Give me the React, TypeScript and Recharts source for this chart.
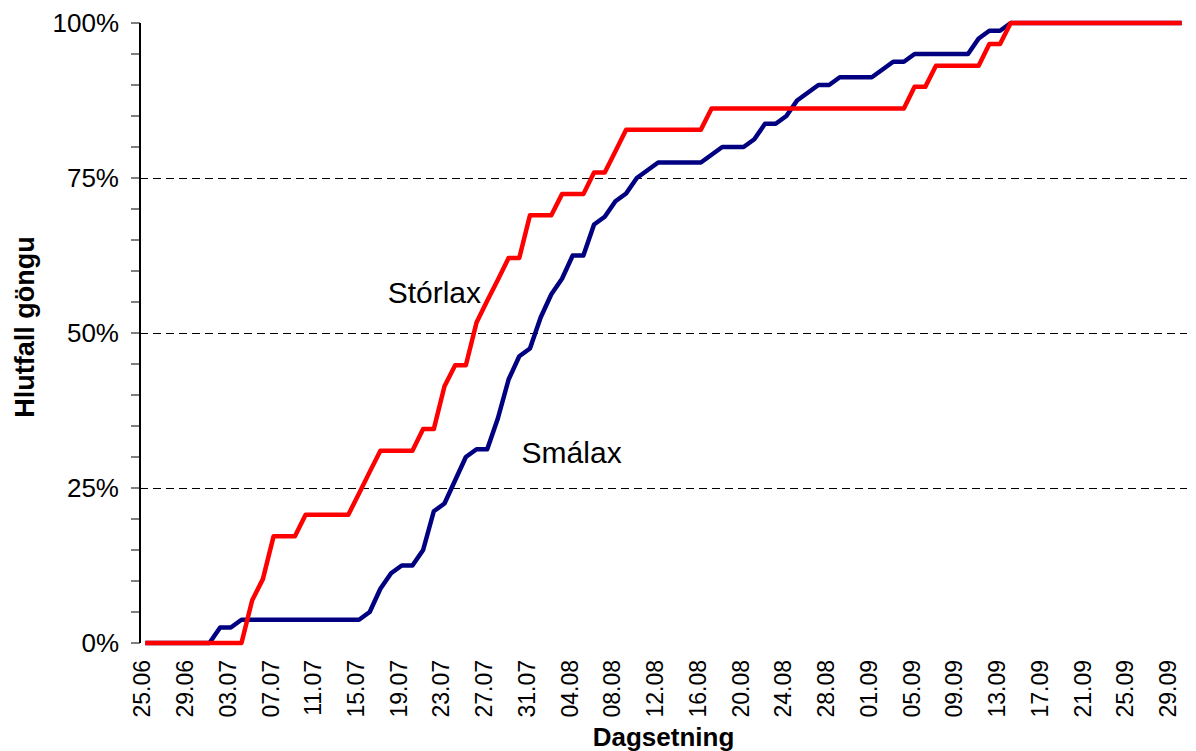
import React from 'react';
import { LineChart, Line, XAxis, YAxis, ReferenceLine, ReferenceDot, Label } from 'recharts';

const dates = [
  '25.06', '26.06', '27.06', '28.06', '29.06', '30.06',
  '01.07', '02.07', '03.07', '04.07', '05.07', '06.07', '07.07', '08.07', '09.07', '10.07',
  '11.07', '12.07', '13.07', '14.07', '15.07', '16.07', '17.07', '18.07', '19.07', '20.07',
  '21.07', '22.07', '23.07', '24.07', '25.07', '26.07', '27.07', '28.07', '29.07', '30.07', '31.07',
  '01.08', '02.08', '03.08', '04.08', '05.08', '06.08', '07.08', '08.08', '09.08', '10.08',
  '11.08', '12.08', '13.08', '14.08', '15.08', '16.08', '17.08', '18.08', '19.08', '20.08',
  '21.08', '22.08', '23.08', '24.08', '25.08', '26.08', '27.08', '28.08', '29.08', '30.08', '31.08',
  '01.09', '02.09', '03.09', '04.09', '05.09', '06.09', '07.09', '08.09', '09.09', '10.09',
  '11.09', '12.09', '13.09', '14.09', '15.09', '16.09', '17.09', '18.09', '19.09', '20.09',
  '21.09', '22.09', '23.09', '24.09', '25.09', '26.09', '27.09', '28.09', '29.09', '30.09',
];

const tickLabels = [
  '25.06', '29.06', '03.07', '07.07', '11.07', '15.07', '19.07', '23.07', '27.07', '31.07',
  '04.08', '08.08', '12.08', '16.08', '20.08', '24.08', '28.08', '01.09', '05.09', '09.09',
  '13.09', '17.09', '21.09', '25.09', '29.09',
];

// Smálax (navy), cumulative %
const smalax = [
  0, 0, 0, 0, 0, 0, 0, 2.5, 2.5, 3.75,
  3.75, 3.75, 3.75, 3.75, 3.75, 3.75, 3.75, 3.75, 3.75, 3.75,
  3.75, 5, 8.75, 11.25, 12.5, 12.5, 15, 21.25, 22.5, 26.25,
  30, 31.25, 31.25, 36.25, 42.5, 46.25, 47.5, 52.5, 56.25, 58.75,
  62.5, 62.5, 67.5, 68.75, 71.25, 72.5, 75, 76.25, 77.5, 77.5,
  77.5, 77.5, 77.5, 78.75, 80, 80, 80, 81.25, 83.75, 83.75,
  85, 87.5, 88.75, 90, 90, 91.25, 91.25, 91.25, 91.25, 92.5,
  93.75, 93.75, 95, 95, 95, 95, 95, 95, 97.5, 98.75,
  98.75, 100, 100, 100, 100, 100, 100, 100, 100, 100,
  100, 100, 100, 100, 100, 100, 100, 100,
];

// Stórlax (red), cumulative %
const storlax = [
  0, 0, 0, 0, 0, 0, 0, 0, 0, 0,
  6.9, 10.3, 17.2, 17.2, 17.2, 20.7, 20.7, 20.7, 20.7, 20.7,
  24.1, 27.6, 31.0, 31.0, 31.0, 31.0, 34.5, 34.5, 41.4, 44.8,
  44.8, 51.7, 55.2, 58.6, 62.1, 62.1, 69.0, 69.0, 69.0, 72.4,
  72.4, 72.4, 75.9, 75.9, 79.3, 82.8, 82.8, 82.8, 82.8, 82.8,
  82.8, 82.8, 82.8, 86.2, 86.2, 86.2, 86.2, 86.2, 86.2, 86.2,
  86.2, 86.2, 86.2, 86.2, 86.2, 86.2, 86.2, 86.2, 86.2, 86.2,
  86.2, 86.2, 89.7, 89.7, 93.1, 93.1, 93.1, 93.1, 93.1, 96.6,
  96.6, 100, 100, 100, 100, 100, 100, 100, 100, 100,
  100, 100, 100, 100, 100, 100, 100, 100,
];

const yTicks = [0, 5, 10, 15, 20, 25, 30, 35, 40, 45, 50, 55, 60, 65, 70, 75, 80, 85, 90, 95, 100];
const yLabelValues = [0, 25, 50, 75, 100];
const gridValues = [25, 50, 75];

const annotations = [
  { text: 'Stórlax', day: 27.05, value: 56.5 },
  { text: 'Smálax', day: 39.9, value: 30.8 },
];

const data = dates.map((date, i) => ({ i, date, smalax: smalax[i], storlax: storlax[i] }));
const dayBoundaries = [...dates.map((_, i) => i - 0.5), dates.length - 0.5];
const labelTicks = tickLabels.map((l) => dates.indexOf(l));
const xDomain: [number, number] = [-0.5, dates.length - 0.5];

const FONT = '"Liberation Sans", Arial, sans-serif';

function DateTick(props: any) {
  const { x, y, payload } = props;
  const tx = x - 3;
  return (
    <text
      x={tx}
      y={y}
      transform={`rotate(-90 ${tx} ${y})`}
      textAnchor="end"
      dominantBaseline="central"
      fontSize={23}
      fontFamily={FONT}
      fill="#000"
    >
      {dates[payload.value]}
    </text>
  );
}

function YTitle(props: any) {
  const vb = props.viewBox || { x: 0, y: 23, width: 140, height: 620 };
  const cx = vb.x + 25;
  const cy = vb.y + vb.height / 2 - 6;
  return (
    <text
      x={cx}
      y={cy}
      transform={`rotate(-90 ${cx} ${cy})`}
      textAnchor="middle"
      dominantBaseline="central"
      fontSize={27}
      fontWeight="bold"
      fontFamily={FONT}
      fill="#000"
    >
      Hlutfall göngu
    </text>
  );
}

function XTitle(props: any) {
  const vb = props.viewBox || { x: 140, y: 643, width: 1047, height: 108 };
  const cx = vb.x + vb.width / 2;
  const cy = vb.y + 94;
  return (
    <text
      x={cx}
      y={cy}
      textAnchor="middle"
      dominantBaseline="central"
      fontSize={26}
      fontWeight="bold"
      fontFamily={FONT}
      fill="#000"
    >
      Dagsetning
    </text>
  );
}

export default function App() {
  return (
    <div style={{ position: 'absolute', left: 0, top: 0, background: '#fff' }}>
      <LineChart width={1196} height={751} data={data} margin={{ top: 23, right: 9, bottom: 0, left: 0 }}>
        <XAxis
          xAxisId="ticks"
          type="number"
          dataKey="i"
          domain={xDomain}
          ticks={dayBoundaries}
          interval={0}
          height={0}
          tickFormatter={() => ''}
          tickSize={6}
          tickLine={{ stroke: '#333', strokeWidth: 1 }}
          axisLine={{ stroke: '#333', strokeWidth: 2 }}
        />
        <XAxis
          xAxisId="labels"
          type="number"
          dataKey="i"
          domain={xDomain}
          ticks={labelTicks}
          interval={0}
          height={108}
          tick={<DateTick />}
          tickLine={false}
          axisLine={false}
          tickSize={0}
          tickMargin={17}
        >
          <Label content={<XTitle />} />
        </XAxis>
        <XAxis
          xAxisId="top"
          orientation="top"
          type="number"
          dataKey="i"
          domain={xDomain}
          height={0}
          tick={false}
          tickLine={false}
          axisLine={{ stroke: '#a0a0a0', strokeWidth: 2 }}
        />
        <YAxis
          yAxisId="left"
          type="number"
          domain={[0, 100]}
          ticks={yTicks}
          interval={0}
          width={140}
          tickFormatter={(v: number) => (yLabelValues.includes(v) ? `${v}%` : '')}
          tick={{ fontSize: 26, fill: '#000', fontFamily: FONT }}
          tickSize={9}
          tickMargin={12}
          tickLine={{ stroke: '#000', strokeWidth: 1 }}
          axisLine={{ stroke: '#000', strokeWidth: 2 }}
        >
          <Label content={<YTitle />} />
        </YAxis>
        <YAxis
          yAxisId="right"
          orientation="right"
          type="number"
          domain={[0, 100]}
          width={0}
          tick={false}
          tickLine={false}
          axisLine={{ stroke: '#a0a0a0', strokeWidth: 2 }}
        />
        {gridValues.map((g) => (
          <ReferenceLine
            key={g}
            xAxisId="labels"
            yAxisId="left"
            y={g}
            stroke="#000"
            strokeWidth={1}
            strokeDasharray="8 5"
            shapeRendering="crispEdges"
          />
        ))}
        <Line
          xAxisId="labels"
          yAxisId="left"
          type="linear"
          dataKey="smalax"
          stroke="#000080"
          strokeWidth={4.5}
          strokeLinejoin="round"
          dot={false}
          activeDot={false}
          isAnimationActive={false}
        />
        <Line
          xAxisId="labels"
          yAxisId="left"
          type="linear"
          dataKey="storlax"
          stroke="#ff0000"
          strokeWidth={4.5}
          strokeLinejoin="round"
          dot={false}
          activeDot={false}
          isAnimationActive={false}
        />
        {annotations.map((a) => (
          <ReferenceDot
            key={a.text}
            xAxisId="labels"
            yAxisId="left"
            x={a.day}
            y={a.value}
            r={0}
            fill="none"
            stroke="none"
            label={{ value: a.text, position: 'center', fontSize: 30, fill: '#000', fontFamily: FONT }}
          />
        ))}
      </LineChart>
    </div>
  );
}
